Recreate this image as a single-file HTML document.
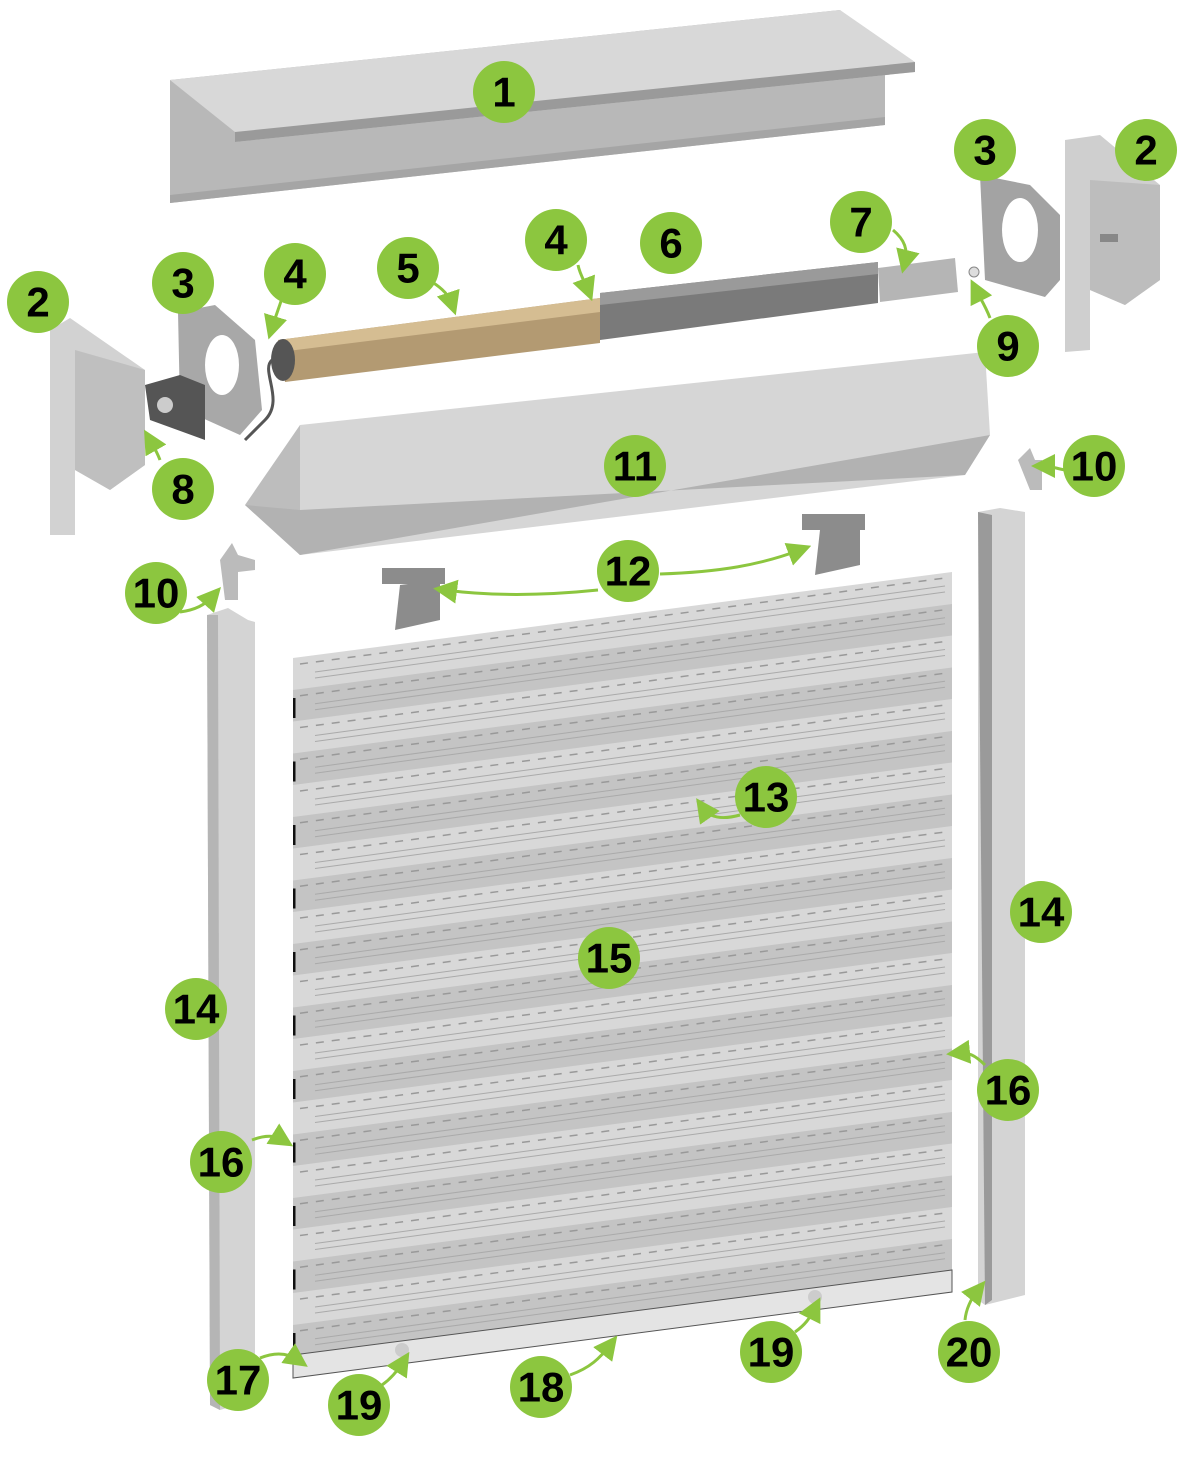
<!DOCTYPE html>
<html><head><meta charset="utf-8"><style>
html,body{margin:0;padding:0;background:#fff}
svg{display:block}
.n text{font-family:"Liberation Sans Narrow","Liberation Sans",sans-serif;font-weight:bold;font-size:42px;fill:#000;text-anchor:middle;dominant-baseline:central}
.n circle{fill:#8cc63f}
.a{fill:none;stroke:#8cc63f;stroke-width:3}
</style></head><body>
<svg id="s" width="1200" height="1470" viewBox="0 0 1200 1470" xmlns="http://www.w3.org/2000/svg">
<defs><marker id="ah" markerWidth="8" markerHeight="8" refX="4" refY="4" orient="auto"><path d="M0,0L8,4L0,8z" fill="#8cc63f"/></marker>
<clipPath id="sc"><polygon points="293,658 952,572 952,1292 293,1378"/></clipPath></defs>
<!-- 1 top cover -->
<polygon points="170,80 840,10 885,62 885,125 170,203" fill="#b8b8b8"/>
<polygon points="170,80 840,10 915,62 915,72 235,142 235,132" fill="#d8d8d8"/>
<polygon points="235,132 915,62 915,72 235,142" fill="#9a9a9a"/>
<polygon points="170,195 885,117 885,125 170,203" fill="#a5a5a5"/>
<!-- right bracket 2 -->
<polygon points="1065,140 1100,135 1160,185 1160,280 1125,305 1090,290 1090,350 1065,352" fill="#cfcfcf"/>
<polygon points="1090,180 1160,185 1160,280 1125,305 1090,290" fill="#bdbdbd"/>
<rect x="1100" y="234" width="18" height="8" fill="#888"/>
<!-- right plate 3 -->
<polygon points="980,175 1030,185 1060,215 1060,280 1045,297 985,280" fill="#a3a3a3"/>
<ellipse cx="1020" cy="230" rx="18" ry="32" fill="#fff"/>
<circle cx="974" cy="272" r="5" fill="#ddd" stroke="#888"/>
<!-- tube -->
<polygon points="278,340 600,298 600,343 285,382" fill="#b39a72"/>
<polygon points="278,340 600,298 600,312 280,352" fill="#d5bd92"/>
<polygon points="600,293 878,262 878,303 600,340" fill="#7a7a7a"/>
<polygon points="600,293 878,262 878,274 600,305" fill="#9a9a9a"/>
<polygon points="878,268 955,258 958,292 880,302" fill="#b5b5b5"/>
<ellipse cx="283" cy="360" rx="12" ry="21" fill="#555"/>
<path d="M272,360 C260,370 285,400 265,420 L245,440" stroke="#555" stroke-width="3" fill="none"/>
<!-- left bracket 2 -->
<polygon points="50,330 70,318 145,370 145,465 110,490 75,470 75,535 50,535" fill="#d2d2d2"/>
<polygon points="75,350 145,370 145,465 110,490 75,470" fill="#bfbfbf"/>
<!-- left plate 3 -->
<polygon points="178,312 215,305 255,340 262,410 240,435 180,408" fill="#a8a8a8"/>
<ellipse cx="222" cy="365" rx="17" ry="30" fill="#fff"/>
<polygon points="145,385 180,375 205,385 205,440 150,420" fill="#555"/>
<circle cx="165" cy="405" r="8" fill="#ccc"/>
<!-- 11 cover -->
<polygon points="300,425 985,352 990,435 965,475 300,555" fill="#d6d6d6"/>
<polygon points="245,505 300,425 300,555" fill="#bdbdbd"/>
<polygon points="245,505 300,510 965,475 990,435 300,555" fill="#b2b2b2"/>
<!-- clips 10 -->
<polygon points="220,560 232,543 238,555 255,560 255,570 238,572 238,600 225,600" fill="#bbb"/>
<polygon points="1018,460 1030,448 1035,460 1042,460 1042,490 1030,490" fill="#bbb"/>
<!-- 12 hangers -->
<g fill="#8c8c8c"><rect x="382" y="568" width="63" height="16"/><polygon points="400,585 440,580 440,620 395,630"/><rect x="802" y="514" width="63" height="16"/><polygon points="820,530 860,528 860,565 815,575"/></g>
<!-- guides 14 -->
<polygon points="207,615 228,608 248,620 255,622 255,1400 220,1410 210,1405" fill="#d4d4d4"/>
<polygon points="207,615 218,615 220,1410 210,1405" fill="#b5b5b5"/>
<polygon points="978,512 1000,508 1025,512 1025,1295 985,1305 978,1300" fill="#d4d4d4"/>
<polygon points="978,512 992,515 992,1300 985,1305" fill="#9a9a9a"/>
<!-- shutter -->
<polygon points="293,658 952,572 952,1292 293,1378" fill="#d8d8d8"/>
<g id="slats" clip-path="url(#sc)"></g>
<polygon points="293,1355 952,1270 952,1292 293,1378" fill="#e4e4e4" stroke="#555" stroke-width="1"/>
<circle cx="402" cy="1350" r="7" fill="#ccc"/><circle cx="815" cy="1297" r="7" fill="#ccc"/>
<!-- arrows -->
<path class="a" marker-end="url(#ah)" d="M432,282 C445,290 450,298 452,304"/>
<path class="a" marker-end="url(#ah)" d="M578,265 C580,275 585,282 588,290"/>
<path class="a" marker-end="url(#ah)" d="M893,230 C905,240 908,250 905,262"/>
<path class="a" marker-end="url(#ah)" d="M990,318 C985,305 980,298 976,290"/>
<path class="a" marker-end="url(#ah)" d="M283,295 C280,305 276,315 272,328"/>
<path class="a" marker-end="url(#ah)" d="M160,460 C157,452 154,447 150,440"/>
<path class="a" marker-end="url(#ah)" d="M1065,470 C1055,468 1050,466 1043,466"/>
<path class="a" marker-end="url(#ah)" d="M180,612 C195,610 205,605 213,596"/>
<path class="a" marker-end="url(#ah)" d="M598,590 C540,596 490,596 445,590"/>
<path class="a" marker-end="url(#ah)" d="M660,574 C720,572 760,565 800,550"/>
<path class="a" marker-end="url(#ah)" d="M740,815 C722,820 710,818 703,808"/>
<path class="a" marker-end="url(#ah)" d="M985,1065 C975,1055 968,1052 958,1053"/>
<path class="a" marker-end="url(#ah)" d="M252,1140 C265,1135 275,1135 283,1140"/>
<path class="a" marker-end="url(#ah)" d="M260,1358 C275,1352 288,1353 298,1360"/>
<path class="a" marker-end="url(#ah)" d="M570,1375 C590,1368 600,1358 610,1345"/>
<path class="a" marker-end="url(#ah)" d="M382,1385 C392,1378 398,1370 403,1362"/>
<path class="a" marker-end="url(#ah)" d="M795,1332 C805,1325 810,1318 815,1308"/>
<path class="a" marker-end="url(#ah)" d="M965,1320 C966,1310 970,1300 978,1290"/>
<!-- labels -->
<g class="n">
<g transform="translate(504,92)"><circle r="31"/><text>1</text></g>
<g transform="translate(1146,150)"><circle r="31"/><text>2</text></g>
<g transform="translate(985,150)"><circle r="31"/><text>3</text></g>
<g transform="translate(556,240)"><circle r="31"/><text>4</text></g>
<g transform="translate(671,243)"><circle r="31"/><text>6</text></g>
<g transform="translate(861,222)"><circle r="31"/><text>7</text></g>
<g transform="translate(1008,346)"><circle r="31"/><text>9</text></g>
<g transform="translate(38,302)"><circle r="31"/><text>2</text></g>
<g transform="translate(183,283)"><circle r="31"/><text>3</text></g>
<g transform="translate(295,274)"><circle r="31"/><text>4</text></g>
<g transform="translate(408,268)"><circle r="31"/><text>5</text></g>
<g transform="translate(183,489)"><circle r="31"/><text>8</text></g>
<g transform="translate(635,466)"><circle r="31"/><text>11</text></g>
<g transform="translate(1094,466)"><circle r="31"/><text>10</text></g>
<g transform="translate(156,593)"><circle r="31"/><text>10</text></g>
<g transform="translate(628,571)"><circle r="31"/><text>12</text></g>
<g transform="translate(766,797)"><circle r="31"/><text>13</text></g>
<g transform="translate(1041,912)"><circle r="31"/><text>14</text></g>
<g transform="translate(196,1009)"><circle r="31"/><text>14</text></g>
<g transform="translate(609,958)"><circle r="31"/><text>15</text></g>
<g transform="translate(1008,1090)"><circle r="31"/><text>16</text></g>
<g transform="translate(221,1162)"><circle r="31"/><text>16</text></g>
<g transform="translate(238,1380)"><circle r="31"/><text>17</text></g>
<g transform="translate(541,1387)"><circle r="31"/><text>18</text></g>
<g transform="translate(359,1405)"><circle r="31"/><text>19</text></g>
<g transform="translate(771,1352)"><circle r="31"/><text>19</text></g>
<g transform="translate(969,1352)"><circle r="31"/><text>20</text></g>
</g>
</svg>
<script>
var g=document.getElementById('slats'),h='';
for(var i=0;i<12;i++){var y=658+i*63.5,y2=572+i*63.5;
var yb=y+63.5,yb2=y2+63.5;
h+='<polygon points="293,'+(y+32)+' 952,'+(y2+32)+' 952,'+yb2+' 293,'+yb+'" fill="#c4c4c4"/>';
for(var k=0;k<2;k++){var o=k*31.7+6;
h+='<line x1="300" y1="'+(y+o)+'" x2="945" y2="'+(y2+o)+'" stroke="#999" stroke-width="1.5" stroke-dasharray="8,8"/>';
h+='<line x1="315" y1="'+(y+o+8)+'" x2="945" y2="'+(y2+o+8)+'" stroke="#aaa" stroke-width="1"/>';
h+='<line x1="315" y1="'+(y+o+14)+'" x2="945" y2="'+(y2+o+14)+'" stroke="#aaa" stroke-width="1"/>';}
h+='<line x1="294" y1="'+(y+40)+'" x2="294" y2="'+(y+60)+'" stroke="#111" stroke-width="3"/>';}
g.innerHTML=h;
</script>
</body></html>
